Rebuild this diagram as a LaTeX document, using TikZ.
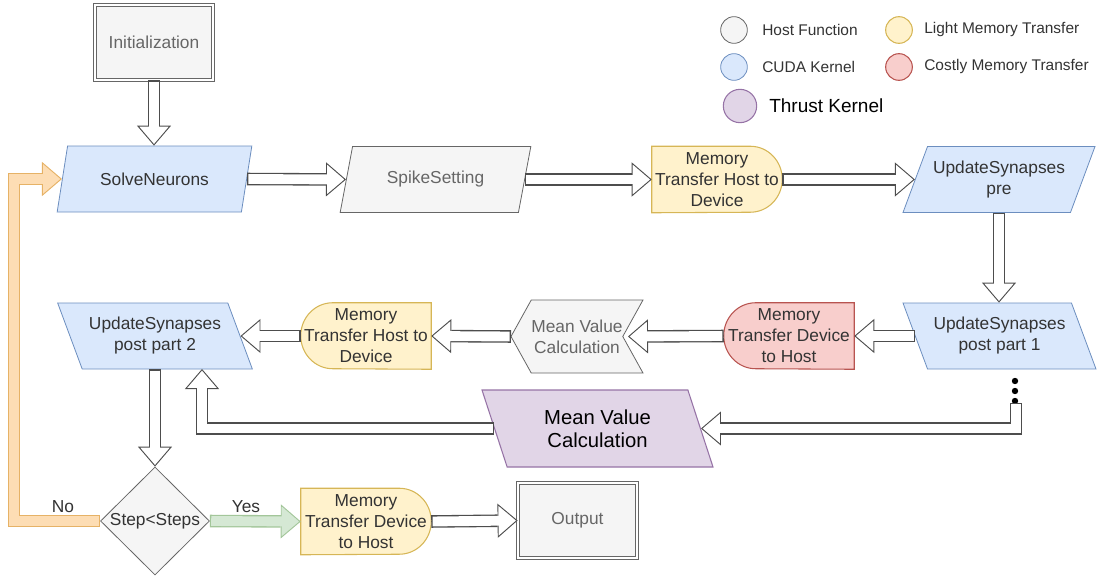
\documentclass[tikz,border=0pt]{standalone}
\usepackage{fontspec}
\setmainfont{Liberation Sans}
\usetikzlibrary{shapes.geometric,shapes.symbols,arrows.meta,calc,backgrounds}

\definecolor{hostfill}{HTML}{F5F5F5}
\definecolor{hostline}{HTML}{666666}
\definecolor{cudafill}{HTML}{DAE8FC}
\definecolor{cudaline}{HTML}{6C8EBF}
\definecolor{lightfill}{HTML}{FFF2CC}
\definecolor{lightline}{HTML}{D6B656}
\definecolor{costfill}{HTML}{F8CECC}
\definecolor{costline}{HTML}{B85450}
\definecolor{thrustfill}{HTML}{E1D5E7}
\definecolor{thrustline}{HTML}{9673A6}
\definecolor{txt}{HTML}{333333}
\definecolor{arrline}{HTML}{4D4D4D}
\definecolor{nofill}{HTML}{FDDDB4}
\definecolor{noline}{HTML}{E6B266}
\definecolor{yesfill}{HTML}{D5E8D4}
\definecolor{yesline}{HTML}{A3C69A}

\newcommand\mainfs{\fontsize{13}{15.75}\selectfont}

% block arrow: border colour, fill colour, path
\newcommand\flowc[3]{%
  \draw[line width=0.7pt, draw=#1, -{Triangle[length=15pt,width=25.5pt,fill=#2]}] #3;
  \draw[line width=9.4pt, draw=#1, shorten >=15pt, line join=miter] #3;
  \draw[line width=7.4pt, draw=#2, shorten >=13.5pt, shorten <=1pt, line join=miter] #3;}
\newcommand\flow[1]{\flowc{arrline}{white}{#1}}

% outline of a delay node, round on the right or on the left
\newcommand\delayR[2]{%
  \draw[#2] (#1.north west) -- ([xshift=-24pt]#1.north east)
    arc[start angle=90, end angle=-90, x radius=24pt, y radius=24.75pt] -- (#1.south west) -- cycle;}
\newcommand\delayL[2]{%
  \draw[#2] (#1.north east) -- ([xshift=24pt]#1.north west)
    arc[start angle=90, end angle=270, x radius=24pt, y radius=24.75pt] -- (#1.south east) -- cycle;}

\tikzset{
  box/.style={draw=hostline, double=white, double distance=1.5pt, line width=0.6pt,
    fill=hostfill, text=hostline, minimum width=88.5pt, minimum height=56.25pt},
  para/.style={trapezium, trapezium left angle=60, trapezium right angle=120,
    trapezium stretches body, inner sep=2pt, minimum width=146pt, minimum height=49.5pt},
  paramir/.style={para, trapezium left angle=120, trapezium right angle=60},
  cuda/.style={draw=cudaline, fill=cudafill, text=txt, line width=0.6pt},
  host/.style={draw=hostline, fill=hostfill, text=hostline, line width=0.6pt},
  delay/.style={minimum width=97.5pt, minimum height=49.5pt, inner sep=0pt, text=txt},
  lightmem/.style={draw=lightline, fill=lightfill, line width=0.8pt},
  costmem/.style={draw=costline, fill=costfill, line width=0.8pt},
  legc/.style={circle, minimum size=20pt, inner sep=0pt, line width=0.8pt},
  legt/.style={anchor=west, inner sep=0pt, text=txt, font=\fontsize{11.6}{14}\selectfont},
}

\begin{document}
\begin{tikzpicture}[x=0.75pt,y=-0.75pt,every node/.style={font=\mainfs,align=center}]
\useasboundingbox (0,0) rectangle (1097,578);

% legend
\node[legc,host] (lhost) at (734,30) {};
\node[legt] (thost) at (762,30) {Host Function};
\node[legc,cuda] (lcuda) at (734,67) {};
\node[legt] (tcuda) at (762,67) {CUDA Kernel};
\node[legc,lightmem] (llight) at (899,30) {};
\node[legt] (tlight) at (924,30) {Light Memory Transfer};
\node[legc,costmem] (lcost) at (899,67) {};
\node[legt] (tcost) at (924,67) {Costly Memory Transfer};
\node[legc,draw=thrustline,fill=thrustfill,minimum size=25pt] (lthrust) at (740,106) {};
\node[legt,text=black,font=\fontsize{14.25}{16}\selectfont] (tthrust) at (769,106) {Thrust Kernel};

% first row
\node[box] (init) at (154,42.5) {Initialization};
\node[para,cuda] (solve) at (154.5,179) {SolveNeurons};
\node[para,host,minimum width=143pt] (spike) at (435.5,179.5) {SpikeSetting};
\node[delay] (memtop) at (717,179.5) {Memory\\Transfer Host to\\Device};
\node[para,cuda,minimum width=144pt] (pre) at (999,179.5) {UpdateSynapses\\pre};

% second row
\node[paramir,cuda,minimum width=144.75pt] (post1) at (999.5,336) {UpdateSynapses\\post part 1};
\node[delay] (red) at (789,336) {Memory\\Transfer Device\\to Host};
\node[signal,signal to=west,signal from=east,signal pointer angle=122,host,
  inner sep=0pt,minimum width=99pt,minimum height=54.75pt] (mv) at (577,336.5) {Mean Value\\Calculation};
\node[delay] (h2d) at (366,336) {Memory\\Transfer Host to\\Device};
\node[paramir,cuda] (post2) at (155,336) {UpdateSynapses\\post part 2};

% thrust kernel
\node[paramir,draw=thrustline,fill=thrustfill,line width=0.8pt,minimum width=173.25pt,
  minimum height=57.75pt,font=\fontsize{15.2}{17.5}\selectfont] (thrust) at (597.5,428.5) {Mean Value\\Calculation};
\foreach \k in {381,391,401} \fill (1015,\k) circle (2.4pt);
\coordinate (dotsend) at (1016,403);

% last row
\node[diamond,aspect=1,host,inner sep=0pt,minimum width=81.75pt,minimum height=81pt,text=txt] (dec) at (155,521) {Step<Steps};
\node[delay] (d2h) at (366,521.5) {Memory\\Transfer Device\\to Host};
\node[box,minimum width=89.25pt] (out) at (577.5,520.5) {Output};
\node[text=txt] (nolbl) at (63,507) {No};
\node[text=txt] (yeslbl) at (246,507) {Yes};

\begin{scope}[on background layer]
\delayR{memtop}{lightmem}
\delayL{red}{costmem}
\delayL{h2d}{lightmem}
\delayR{d2h}{lightmem}
\end{scope}

% connectors
\flow{(init.south) -- (init.south |- solve.north)}
\flow{(solve.right side) -- (spike.left side)}
\flow{(spike.right side) -- (memtop.west)}
\flow{(memtop.east) -- (pre.left side)}
\flow{(pre.center |- pre.south) -- (pre.center |- post1.north)}
\flow{(post1.left side) -- (red.east)}
\flow{(red.west) -- ($(mv.center)+(51,0)$)}
\flow{($(mv.center)+(-66,0)$) -- (h2d.east)}
\flow{(h2d.west) -- (post2.right side)}
\flow{(dotsend) |- (thrust.right side)}
\flow{(thrust.left side) -| ($(post2.center)+(47,33)$)}
\flow{(post2.center |- post2.south) -- (dec.north)}
\flowc{noline}{nofill}{(dec.west) -- ++(-86,0) |- (solve.left side)}
\flowc{yesline}{yesfill}{(dec.east) -- (d2h.west)}
\flow{(d2h.east) -- (out.west)}
\end{tikzpicture}
\end{document}
